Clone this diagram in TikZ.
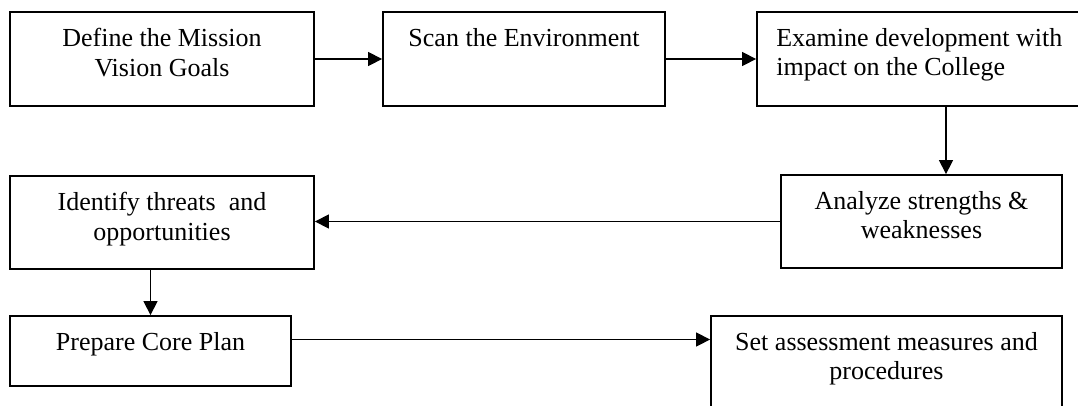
\documentclass[tikz,border=0pt]{standalone}
\usepackage{fontspec}
\setmainfont{Liberation Serif}
\usetikzlibrary{arrows.meta}
\begin{document}
\begin{tikzpicture}[x=1pt,y=-1pt,
		box/.style={draw,line width=1.8pt,inner sep=0pt},
		txt/.style={inner sep=0pt,align=center,font=\fontsize{26}{29.5}\selectfont},
		arr/.style={line width=1.3pt,-{Triangle[length=14pt,width=14pt]}}]
		\useasboundingbox (0,0) rectangle (1078,405);
		\clip (0,0) rectangle (1078,405);
		% boxes
		\node[box,minimum width=304pt,minimum height=94pt] (mission) at (162,59) {};
		\node[box,minimum width=282pt,minimum height=94pt] (scan) at (524,59) {};
		\node[box,minimum width=378pt,minimum height=94pt] (impact) at (946,59) {};
		\node[box,minimum width=281pt,minimum height=93pt] (swot) at (921.5,221.5) {};
		\node[box,minimum width=304pt,minimum height=93pt] (threats) at (162,222.5) {};
		\node[box,minimum width=281pt,minimum height=70pt] (plan) at (150.5,351) {};
		\node[box,minimum width=351pt,minimum height=120pt] (assess) at (886.5,376) {};
		
		% texts
		\node[txt,anchor=north,yshift=-17pt] (mission-t) at (mission.north) {Define the Mission\\Vision Goals};
		\node[txt,anchor=north,yshift=-17pt] (scan-t) at (scan.north) {Scan the Environment};
		\node[txt,align=left,anchor=north west,xshift=20pt,yshift=-17pt] (impact-t) at (impact.north west) {Examine development with\\impact on the College};
		\node[txt,anchor=north,yshift=-17pt] (swot-t) at (swot.north) {Analyze strengths \&\\weaknesses};
		\node[txt,anchor=north,yshift=-17pt] (threats-t) at (threats.north) {Identify threats~ and\\opportunities};
		\node[txt,anchor=north,yshift=-17pt] (plan-t) at (plan.north) {Prepare Core Plan};
		\node[txt,anchor=north,yshift=-17pt] (assess-t) at (assess.north) {Set assessment measures and\\procedures};
		
		% connectors
		\draw[arr] (mission.east)--(scan.west);
		\draw[arr] (scan.east)--(impact.west);
		\draw[arr] (impact.south)--(impact.south |- swot.north);
		\draw[arr] (swot.west)--(swot.west -| threats.east);
		\draw[arr] (threats.south -| plan.north)--(plan.north);
		\draw[arr] ([yshift=11.5pt]plan.east)--([yshift=11.5pt]plan.east -| assess.west);
	\end{tikzpicture}
\end{document}
